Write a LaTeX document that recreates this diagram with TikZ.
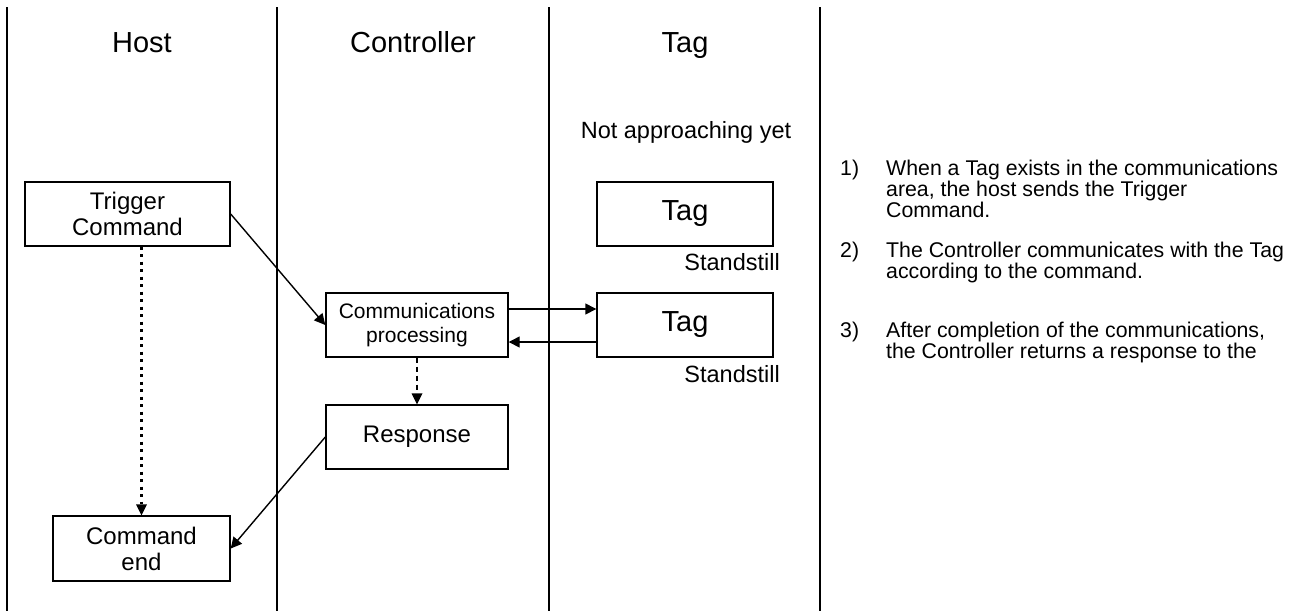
\documentclass[tikz,border=0pt]{standalone}
\usepackage{fontspec}
\setmainfont{Liberation Sans}
\usetikzlibrary{arrows.meta}
\tikzset{
  lane/.style={line width=1.4pt},
  box/.style={draw, line width=1.4pt, inner sep=0pt, align=center,
    font=\fontsize{24}{26}\selectfont},
  head/.style={inner sep=0pt, anchor=base, font=\fontsize{29}{32}\selectfont},
  lbl/.style={inner sep=0pt, font=\fontsize{23.5}{26}\selectfont},
  note/.style={inner sep=0pt, align=left, anchor=north west, font=\fontsize{21.3}{19.5}\selectfont},
  num/.style={inner sep=0pt, anchor=north west, font=\fontsize{21.3}{19.5}\selectfont},
  arr/.style={line width=1.4pt, -{Triangle[length=11pt,width=11pt]}},
}
\begin{document}
\begin{tikzpicture}[x=1pt,y=-1pt]
\useasboundingbox (0,0) rectangle (1298,614);
% lanes
\coordinate (l1t) at (7,7);   \coordinate (l1b) at (7,611);
\coordinate (l2t) at (277,7); \coordinate (l2b) at (277,611);
\coordinate (l3t) at (549,7); \coordinate (l3b) at (549,611);
\coordinate (l4t) at (820,7); \coordinate (l4b) at (820,611);
\draw[lane] (l1t) -- (l1b);
\draw[lane] (l2t) -- (l2b);
\draw[lane] (l3t) -- (l3b);
\draw[lane] (l4t) -- (l4b);
% headers
\node[head] (hhost) at (142,52) {Host};
\node[head] (hctrl) at (413,52) {Controller};
\node[head] (htag) at (685,52) {Tag};
\node[lbl, anchor=base] (nay) at (686,138) {Not approaching yet};
% boxes
\node[box, minimum width=205pt, minimum height=64pt] (trig) at (127.5,214) {Trigger\\Command};
\node[box, minimum width=182pt, minimum height=64pt, font=\fontsize{21}{24}\selectfont] (comm) at (417,325) {Communications\\processing};
\node[box, minimum width=182pt, minimum height=64pt] (resp) at (417,437) {Response};
\node[box, minimum width=177pt, minimum height=65pt] (cend) at (141.5,548.5) {Command\\end};
\node[box, minimum width=176pt, minimum height=64pt, font=\fontsize{29}{30}\selectfont] (tag1) at (685,214) {Tag};
\node[box, minimum width=176pt, minimum height=64pt, font=\fontsize{29}{30}\selectfont] (tag2) at (685,325) {Tag};
\node[lbl, anchor=base east] (st1) at (780,270) {Standstill};
\node[lbl, anchor=base east] (st2) at (780,382) {Standstill};
% connectors
\draw[arr] (trig.east) -- (comm.west);
\draw[arr] (resp.west) -- (cend.east);
\draw[arr] ([yshift=16pt]comm.east) -- ([yshift=16pt]tag2.west);
\draw[arr] ([yshift=-17pt]tag2.west) -- ([yshift=-17pt]comm.east);
\draw[line width=3pt, dash pattern=on 3pt off 4.5pt, -{Triangle[length=11pt,width=11pt,line width=0pt]}]
  (trig.south -| cend.north) -- (cend.north);
\draw[line width=2.2pt, dash pattern=on 5pt off 4pt, -{Triangle[length=11pt,width=11pt,line width=0pt]}]
  (comm.south) -- (resp.north);
% notes
\node[num] (n1) at (840,160) {1)};
\node[note] (t1) at (886,160) {When a Tag exists in the communications\\area, the host sends the Trigger\\Command.};
\node[num] (n2) at (840,242) {2)};
\node[note] (t2) at (886,242) {The Controller communicates with the Tag\\according to the command.};
\node[num] (n3) at (840,322) {3)};
\node[note] (t3) at (886,322) {After completion of the communications,\\the Controller returns a response to the};
\end{tikzpicture}
\end{document}
